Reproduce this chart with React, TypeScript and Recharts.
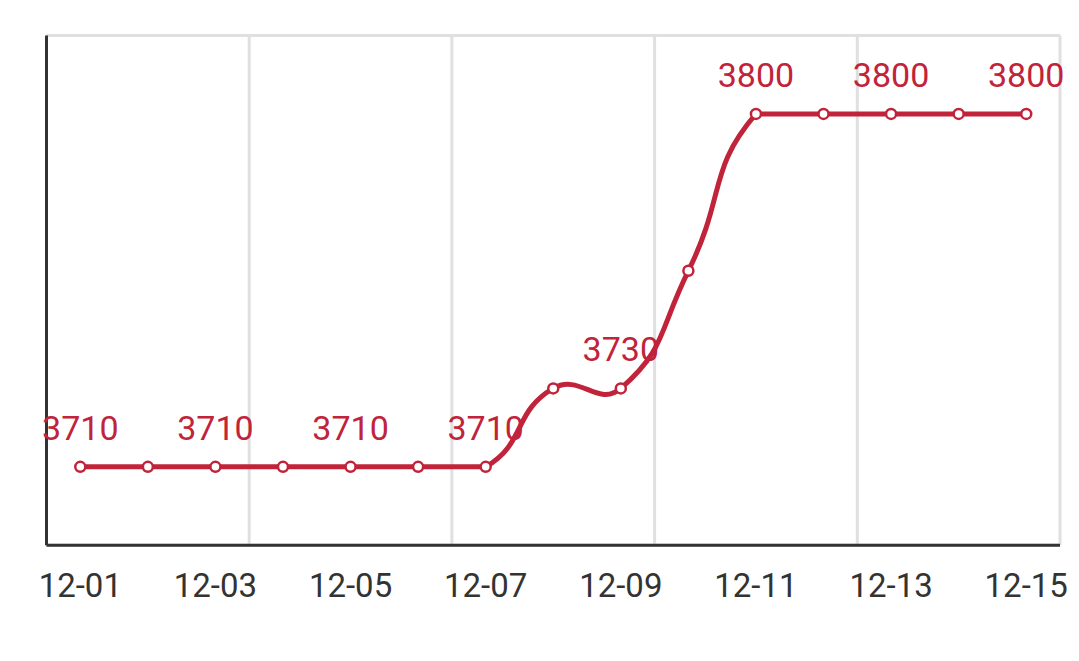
import React from 'react';
import { LineChart, Line, XAxis, YAxis, CartesianGrid, LabelList } from 'recharts';

const dates = ['12-01', '12-02', '12-03', '12-04', '12-05', '12-06', '12-07', '12-08', '12-09', '12-10', '12-11', '12-12', '12-13', '12-14', '12-15'];
const prices = [3710, 3710, 3710, 3710, 3710, 3710, 3710, 3730, 3730, 3760, 3800, 3800, 3800, 3800, 3800];
const xTicks = [0, 2, 4, 6, 8, 10, 12, 14];
const gridX = [2.5, 5.5, 8.5, 11.5, 14.5];
const yTicks = [3690, 3720, 3750, 3780, 3810, 3820];
const yDomain = [3690, 3820];

const RED = '#c1233a';
const FONT = 'Roboto, "Noto Sans", sans-serif';

const data = dates.map((d, i) => ({
  idx: i,
  date: d,
  price: prices[i],
  label: i % 2 === 0 ? prices[i] : undefined,
}));

// ECharts-4 style smoothing with bounding-box constraint
function echartsSmooth(smooth: number) {
  return (context: any) => {
    let pts: number[][] = [];
    return {
      areaStart() {},
      areaEnd() {},
      lineStart() {
        pts = [];
      },
      point(x: number, y: number) {
        pts.push([+x, +y]);
      },
      lineEnd() {
        const n = pts.length;
        if (!n) return;
        let minX = Infinity, minY = Infinity, maxX = -Infinity, maxY = -Infinity;
        pts.forEach(([x, y]) => {
          minX = Math.min(minX, x); maxX = Math.max(maxX, x);
          minY = Math.min(minY, y); maxY = Math.max(maxY, y);
        });
        const clamp = (p: number[]) => [
          Math.min(Math.max(p[0], minX), maxX),
          Math.min(Math.max(p[1], minY), maxY),
        ];
        context.moveTo(pts[0][0], pts[0][1]);
        let cp0 = [pts[0][0], pts[0][1]];
        for (let i = 1; i < n; i++) {
          const p = pts[i];
          const prev = pts[i - 1];
          const next = pts[i + 1];
          let cp1 = [p[0], p[1]];
          let v = [0, 0];
          let ratio = 0.5;
          if (next) {
            v = [next[0] - prev[0], next[1] - prev[1]];
            const lp = Math.hypot(p[0] - prev[0], p[1] - prev[1]);
            const ln = Math.hypot(next[0] - p[0], next[1] - p[1]);
            ratio = ln / (ln + lp);
            cp1 = [p[0] - v[0] * smooth * (1 - ratio), p[1] - v[1] * smooth * (1 - ratio)];
          }
          const a = clamp(cp0);
          const b = clamp(cp1);
          context.bezierCurveTo(a[0], a[1], b[0], b[1], p[0], p[1]);
          cp0 = [p[0] + v[0] * smooth * ratio, p[1] + v[1] * smooth * ratio];
        }
      },
    };
  };
}

const curve = echartsSmooth(0.5);

export default function App() {
  return (
    <div style={{ width: 1071, height: 645, fontFamily: FONT }}>
      <LineChart
        width={1071}
        height={645}
        data={data}
        margin={{ top: 27.5, right: 19, left: 36.5, bottom: 47.7 }}
      >
        <CartesianGrid
          stroke="#e0e0e0"
          strokeWidth={3}
          verticalCoordinatesGenerator={(props: any) => {
            const s = props?.xAxis?.scale;
            if (typeof s === 'function') return gridX.map((v) => s(v));
            const o = props.offset;
            return gridX.map((v) => o.left + ((v + 0.5) / dates.length) * o.width);
          }}
        />
        <XAxis
          dataKey="idx"
          type="number"
          domain={[-0.5, dates.length - 0.5]}
          ticks={xTicks}
          interval={0}
          tickFormatter={(v: number) => dates[v]}
          height={60}
          tickLine={false}
          tickSize={6}
          tickMargin={22.3}
          axisLine={{ stroke: '#333', strokeWidth: 3 }}
          tick={{ fill: '#333', fontSize: 33, fontFamily: FONT }}
          allowDecimals
        />
        <YAxis
          type="number"
          domain={yDomain}
          ticks={yTicks}
          interval={0}
          width={2}
          tick={false}
          tickLine={false}
          axisLine={{ stroke: '#333', strokeWidth: 3 }}
        />
        <Line
          dataKey="price"
          type={curve as any}
          stroke={RED}
          strokeWidth={5}
          dot={{ r: 5, fill: '#fff', stroke: RED, strokeWidth: 2.5 }}
          activeDot={false}
          isAnimationActive={false}
        >
          <LabelList
            dataKey="label"
            position="top"
            offset={27}
            fill={RED}
            fontSize={34}
            fontFamily={FONT}
          />
        </Line>
      </LineChart>
    </div>
  );
}
